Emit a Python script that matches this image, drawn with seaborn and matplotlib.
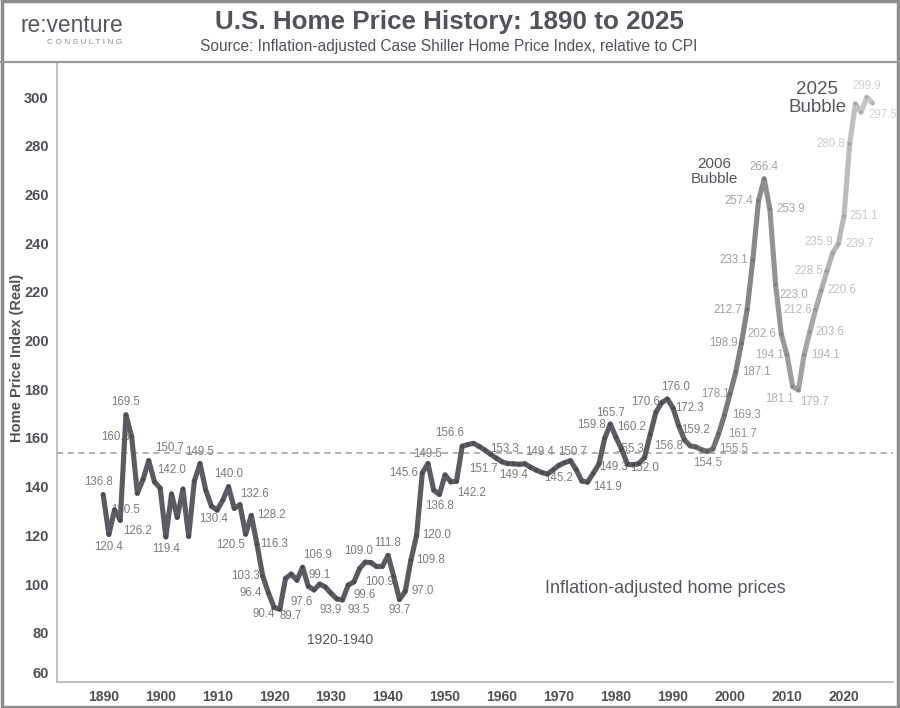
import numpy as np
import pandas as pd
import matplotlib
matplotlib.use("Agg")
import matplotlib.pyplot as plt
import seaborn as sns
from matplotlib import colors as mcolors
from matplotlib.lines import Line2D
from matplotlib.patches import Rectangle
from matplotlib.transforms import ScaledTranslation

# ---------------- data ----------------
years = list(range(1890, 2026))
hpi = [
    136.8, 120.4, 130.5, 126.2, 169.5, 160.6, 137.3, 143.0, 150.7, 142.0,   # 1890s
    139.4, 119.4, 137.0, 127.4, 139.0, 119.6, 142.3, 149.5, 138.6, 132.0,   # 1900s
    130.4, 134.5, 140.0, 131.1, 132.6, 120.5, 128.2, 116.3, 103.3, 96.4,    # 1910s
    90.4, 89.7, 102.3, 104.1, 101.6, 106.9, 99.1, 97.6, 100.0, 98.8,        # 1920s
    96.2, 93.9, 93.5, 99.6, 100.9, 106.4, 109.0, 108.8, 107.2, 107.3,       # 1930s
    111.8, 103.0, 93.7, 97.0, 109.8, 120.0, 145.6, 149.5, 138.6, 136.8,     # 1940s
    144.8, 142.0, 142.2, 156.6, 157.3, 157.8, 156.5, 155.0, 153.3, 151.7,   # 1950s
    150.2, 149.5, 149.4, 149.2, 149.4, 148.0, 146.8, 145.8, 145.2, 147.0,   # 1960s
    148.8, 149.9, 150.7, 147.0, 142.3, 141.9, 145.5, 149.3, 159.8, 165.7,   # 1970s
    160.2, 155.3, 149.2, 149.0, 149.5, 152.0, 161.5, 170.6, 174.5, 176.0,   # 1980s
    172.3, 165.0, 159.2, 156.8, 156.3, 155.2, 154.5, 155.5, 161.7, 169.3,   # 1990s
    178.1, 187.1, 198.9, 212.7, 233.1, 257.4, 266.4, 253.9, 223.0, 202.6,   # 2000s
    194.1, 181.1, 179.7, 194.1, 203.6, 212.6, 220.6, 228.5, 235.9, 239.7,   # 2010s
    251.1, 280.8, 297.2, 293.8, 299.9, 297.5,                               # 2020s
]
long_run_avg = 153.8
y_ticks = [60, 80, 100, 120, 140, 160, 180, 200, 220, 240, 260, 280, 300]
x_ticks = list(range(1890, 2030, 10))

# which points carry a value label, and where the label sits (pixel offset)
label_pos = {
    1890: (-5, 12), 1891: (0, -13), 1892: (11, 0), 1893: (17, -11), 1894: (0, 13),
    1895: (-16, 0), 1898: (21, 13), 1899: (17, 12), 1901: (0, -12), 1907: (0, 12),
    1910: (-4, -9), 1912: (0, 13), 1914: (15, 11), 1915: (-15, -11), 1916: (20, 0),
    1917: (17, 0), 1918: (-17, 0), 1919: (-18, 0), 1920: (-10, -7), 1921: (11, -7),
    1925: (15, 12), 1926: (11, 11), 1927: (-12, -12), 1931: (-6, -11), 1932: (16, -10),
    1933: (16, -10), 1934: (26, 0), 1936: (-7, 11), 1940: (0, 12), 1942: (0, -11),
    1943: (17, 0), 1944: (20, 0), 1945: (20, 0), 1946: (-19, 0), 1947: (0, 10),
    1949: (0, -12), 1952: (15, -12), 1953: (-13, 13), 1958: (14, 5), 1959: (-13, -11),
    1962: (0, -11), 1964: (15, 12), 1968: (11, -4), 1972: (2, 9), 1975: (20, -5),
    1977: (15, -3), 1978: (-13, 13), 1979: (0, 11), 1980: (16, 11), 1981: (8, 0),
    1985: (0, -11), 1987: (-10, 10), 1989: (8, 12), 1990: (16, 0), 1992: (11, 10),
    1993: (-22, 0), 1996: (0, -12), 1997: (21, 0), 1998: (24, 0), 1999: (22, 0),
    2000: (-15, 0), 2001: (21, 0), 2002: (-18, 0), 2003: (-19, 0), 2004: (-19, 0),
    2005: (-20, 0), 2006: (0, 12), 2007: (21, 0), 2008: (18, -10), 2009: (-19, 0),
    2010: (-17, 0), 2011: (-13, -12), 2012: (16, -12), 2013: (21, 0), 2014: (20, 0),
    2015: (-18, 0), 2016: (21, 0), 2017: (-18, 0), 2018: (-14, 11), 2019: (21, 0),
    2020: (20, 0), 2021: (-19, 0), 2024: (0, 11), 2025: (10, -12),
}

# ---------------- colours: line fades from dark to light after 1990 ----------------
def fade(year, dark, light):
    t = min(max((year - 1990) / 35.0, 0.0), 1.0)
    d = np.array(mcolors.to_rgb(dark))
    l = np.array(mcolors.to_rgb(light))
    return tuple(d + (l - d) * t)

LINE_DARK, LINE_LIGHT = "#5b5c61", "#c9c9c9"
LAB_DARK, LAB_LIGHT = "#7b7b7b", "#d6d6d6"
TXT = "#55585d"

sns.set_style("white")
plt.rcParams["font.family"] = ["Liberation Sans", "DejaVu Sans"]

fig = plt.figure(figsize=(9, 7.08), dpi=100)
ax = fig.add_axes([57 / 900, 1 - 682 / 708, (893 - 57) / 900, (682 - 62) / 708])

# build two-point segments so each one gets its own shade
seg_rows = []
for i in range(len(years) - 1):
    seg_rows.append({"seg": i, "year": years[i], "hpi": hpi[i]})
    seg_rows.append({"seg": i, "year": years[i + 1], "hpi": hpi[i + 1]})
segs = pd.DataFrame(seg_rows)
pal = {i: fade((years[i] + years[i + 1]) / 2, LINE_DARK, LINE_LIGHT) for i in range(len(years) - 1)}

ax.axhline(long_run_avg, color="#9c9c9c", lw=1.1, ls=(0, (4, 3)), zorder=2)

sns.lineplot(data=segs, x="year", y="hpi", hue="seg", palette=pal, estimator=None,
             sort=False, legend=False, linewidth=3.7, solid_capstyle="round", ax=ax, zorder=3)

pts = pd.DataFrame({"year": years, "hpi": hpi})
dot_cols = [fade(y, "#4a4b50", "#b0b0b0") for y in years]
sns.scatterplot(data=pts, x="year", y="hpi", c=dot_cols, s=7, linewidth=0, ax=ax, zorder=4)

for yr, (dx, dy) in label_pos.items():
    v = hpi[years.index(yr)]
    ax.annotate(f"{v:.1f}", (yr, v), xytext=(dx, dy), textcoords="offset pixels",
                ha="center", va="center", fontsize=8.3, color=fade(yr, LAB_DARK, LAB_LIGHT),
                zorder=1.5)

# text annotations
ax.text(1997.2, 269.5, "2006\nBubble", ha="center", va="center", fontsize=11,
        color=TXT, linespacing=1.05)
ax.text(2015.3, 299.5, "2025\nBubble", ha="center", va="center", fontsize=13.5,
        color=TXT, linespacing=1.1)
ax.text(1931.6, 77.0, "1920-1940", ha="center", va="center", fontsize=10, color=TXT)
ax.text(1988.6, 98.4, "Inflation-adjusted home prices", ha="center", va="center",
        fontsize=13, color=TXT)

# axes styling
ax.set_xlim(1881.9, 2028.6)
ax.set_ylim(59.8, 314.4)
ax.set_xticks(x_ticks)
ax.set_yticks(y_ticks)
ax.set_xlabel("")
ax.set_ylabel("")
for side in ["top", "right"]:
    ax.spines[side].set_visible(False)
for side in ["left", "bottom"]:
    ax.spines[side].set_color("#b4b4b4")
    ax.spines[side].set_linewidth(1.2)
ax.tick_params(axis="both", length=3, width=0.8, color="#b4b4b4", labelcolor="#4d5055", pad=3)
for lab in ax.get_xticklabels():
    lab.set_fontweight("bold")
    lab.set_fontsize(10)
for lab in ax.get_yticklabels():
    lab.set_fontweight("bold")
    lab.set_fontsize(10.5)
# the bottom "60" sits a little above the corner in the reference
ylabs = ax.get_yticklabels()
ylabs[0].set_transform(ylabs[0].get_transform() + ScaledTranslation(0, 0.09, fig.dpi_scale_trans))
ax.yaxis.get_major_ticks()[0].tick1line.set_visible(False)

fig.text(17 / 900, 1 - 358 / 708, "Home Price Index (Real)", rotation=90, ha="center",
         va="center", fontsize=10.5, fontweight="bold", color="#4d5055")

# header
fig.text(449 / 900, 1 - 22 / 708, "U.S. Home Price History: 1890 to 2025", ha="center",
         va="center", fontsize=18.7, fontweight="bold", color="#50545a")
fig.text(449 / 900, 1 - 46 / 708,
         "Source: Inflation-adjusted Case Shiller Home Price Index, relative to CPI",
         ha="center", va="center", fontsize=11.2, color="#50545a")
fig.text(20 / 900, 1 - 25 / 708, "re:venture", ha="left", va="center", fontsize=16.4,
         color="#55585d")
fig.text(122 / 900, 1 - 42 / 708, "C O N S U L T I N G", ha="right", va="center",
         fontsize=6, color="#8a8a8a")

fig.add_artist(Line2D([0, 1], [1 - 62 / 708] * 2, transform=fig.transFigure,
                      color="#9a9a9a", lw=1.6))
fig.add_artist(Rectangle((0.002, 0.002), 0.996, 0.996, transform=fig.transFigure,
                         fill=False, edgecolor="#8c8c8c", lw=2.5))

fig.savefig("out.png", dpi=100)
